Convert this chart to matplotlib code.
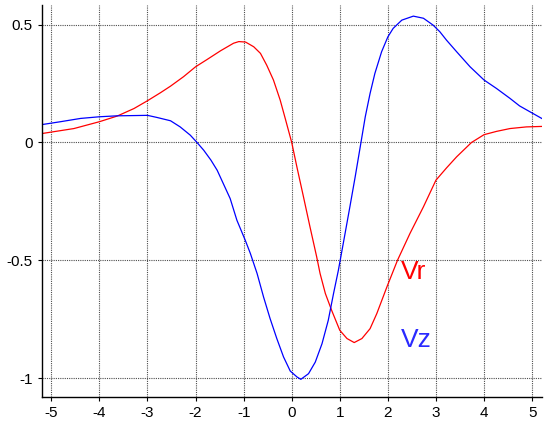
import matplotlib
matplotlib.use("Agg")
import matplotlib.pyplot as plt
from matplotlib.ticker import FuncFormatter

plt.rcParams['font.family'] = ['Liberation Sans', 'DejaVu Sans']
plt.rcParams['axes.unicode_minus'] = False

# Vr (red)
vr_x = [-5.19, -4.53, -4.0, -3.63, -3.28, -3.0, -2.73, -2.52, -2.25, -2.0, -1.76, -1.48, -1.21, -1.10,
        -0.96, -0.79, -0.65, -0.52, -0.38, -0.24, -0.135, 0.0, 0.108, 0.245, 0.38, 0.52, 0.59, 0.70,
        0.83, 1.0, 1.15, 1.30, 1.46, 1.63, 1.77, 1.98, 2.2, 2.46, 2.74, 3.0, 3.22, 3.43, 3.74, 4.0,
        4.26, 4.54, 4.88, 5.2]
vr_y = [0.038, 0.059, 0.088, 0.112, 0.144, 0.177, 0.211, 0.239, 0.279, 0.321, 0.352, 0.389, 0.421, 0.428,
        0.426, 0.406, 0.378, 0.328, 0.265, 0.180, 0.102, 0.0, -0.104, -0.231, -0.358, -0.486, -0.556, -0.641,
        -0.712, -0.797, -0.832, -0.849, -0.832, -0.790, -0.726, -0.613, -0.5, -0.386, -0.273, -0.16, -0.108, -0.061, 0.0, 0.033,
        0.047, 0.059, 0.066, 0.068]

# Vz (blue)
vz_x = [-5.19, -4.81, -4.39, -4.0, -3.63, -3.0, -2.80, -2.52, -2.32, -2.11, -1.97, -1.83, -1.68, -1.55,
        -1.28, -1.14, -0.966, -0.86, -0.72, -0.585, -0.45, -0.31, -0.17, -0.03, 0.11, 0.19, 0.35, 0.49,
        0.63, 0.76, 0.87, 0.97, 1.11, 1.21, 1.32, 1.42, 1.53, 1.63, 1.73, 1.87, 2.0, 2.11, 2.29, 2.53,
        2.74, 2.94, 3.08, 3.22, 3.43, 3.71, 4.0, 4.26, 4.54, 4.74, 5.0, 5.2]
vz_y = [0.076, 0.088, 0.102, 0.109, 0.113, 0.115, 0.106, 0.092, 0.066, 0.031, 0.0, -0.033, -0.075, -0.118,
        -0.238, -0.330, -0.415, -0.471, -0.556, -0.656, -0.747, -0.832, -0.910, -0.970, -0.995, -1.005, -0.981, -0.932,
        -0.854, -0.755, -0.641, -0.543, -0.386, -0.273, -0.146, -0.025, 0.109, 0.208, 0.293, 0.385, 0.448, 0.484, 0.519, 0.536,
        0.527, 0.498, 0.470, 0.434, 0.385, 0.321, 0.265, 0.229, 0.187, 0.155, 0.125, 0.102]

xticks = [-5, -4, -3, -2, -1, 0, 1, 2, 3, 4, 5]
yticks = [-1, -0.5, 0, 0.5]

fig = plt.figure(figsize=(5.53, 4.21), dpi=100)
ax = fig.add_axes([0.0754, 0.057, 0.9042, 0.931])

ax.plot(vr_x, vr_y, color='#ff0000', lw=0.9)
ax.plot(vz_x, vz_y, color='#0000ff', lw=0.9)

ax.text(2.28, -0.548, 'Vr', color='#ff0000', fontsize=19, va='center', ha='left')
ax.text(2.28, -0.84, 'Vz', color='#2a2aff', fontsize=19, va='center', ha='left')

ax.set_xlim(-5.2, 5.2)
ax.set_ylim(-1.08, 0.583)
ax.set_xticks(xticks)
ax.set_yticks(yticks)
ax.yaxis.set_major_formatter(FuncFormatter(lambda v, p: f"{v:g}"))
ax.xaxis.set_major_formatter(FuncFormatter(lambda v, p: f"{v:g}"))
ax.tick_params(labelsize=11, length=3, width=0.8, direction='out', colors='black')

ax.grid(True, color='0.3', linestyle=(0, (1, 1)), linewidth=0.8)
ax.set_axisbelow(True)
for s in ['top', 'right']:
    ax.spines[s].set_visible(False)
for s in ['left', 'bottom']:
    ax.spines[s].set_linewidth(1.0)

fig.savefig('out.png', dpi=100)
